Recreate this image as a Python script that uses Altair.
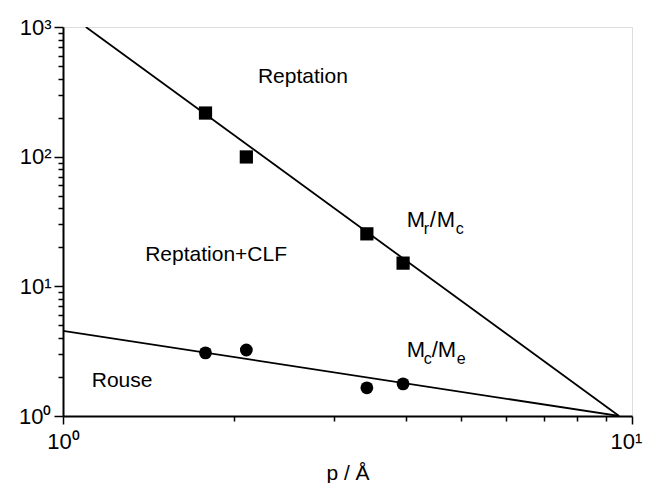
import altair as alt
import pandas as pd

# data
p_vals = [1.78, 2.10, 3.42, 3.96]
mr_mc = [217, 99.5, 25.4, 15.1]
mc_me = [3.07, 3.23, 1.65, 1.77]

line1_x = [1.097, 9.49]
line1_y = [1000, 1]
line2_x = [1.0, 9.49]
line2_y = [4.53, 1]

region_labels = ["Reptation", "Reptation+CLF", "Rouse"]
region_x = [2.64, 1.858, 1.27]
region_y = [370, 15.7, 1.675]

ratio_x = [4.02, 4.02]
ratio_y = [28.7, 2.86]

x_ticks = [1, 2, 3, 4, 5, 6, 7, 8, 9, 10]
y_ticks = [1, 2, 3, 4, 5, 6, 7, 8, 9,
           10, 20, 30, 40, 50, 60, 70, 80, 90,
           100, 200, 300, 400, 500, 600, 700, 800, 900, 1000]

FONT = "Liberation Sans"

pts = pd.DataFrame({"p": p_vals * 2, "v": mr_mc + mc_me,
                    "s": ["sq"] * 4 + ["ci"] * 4})
lines = pd.DataFrame({"p": line1_x + line2_x, "v": line1_y + line2_y,
                      "s": ["a", "a", "b", "b"]})
regions = pd.DataFrame({"p": region_x, "v": region_y, "t": region_labels})

xscale = alt.Scale(type="log", domain=[1, 10], nice=False)
yscale = alt.Scale(type="log", domain=[1, 1000], nice=False)

major_x = "datum.value == 1 || datum.value == 10"
major_y = "abs(log(datum.value)/LN10 - round(log(datum.value)/LN10)) < 0.001"

xaxis = alt.Axis(
    values=x_ticks, title="p / Å", labelOverlap=False, labelFlush=False,
    labelExpr="datum.value == 1 ? '10⁰' : datum.value == 10 ? '10¹' : ''",
    labelOffset={"condition": {"test": "datum.value == 10", "value": -6}, "value": 0},
    tickSize={"condition": {"test": major_x, "value": 8}, "value": 5},
    tickColor="black", tickWidth=1.5, domainColor="black", domainWidth=2,
    labelFont=FONT, labelFontSize=22, labelColor="black", labelPadding=7,
    titleFont=FONT, titleFontSize=21, titleFontWeight="normal",
    titleColor="black", titlePadding=10, grid=False)
yaxis = alt.Axis(
    values=y_ticks, title=None, labelOverlap=False, labelFlush=False,
    labelExpr="datum.value == 1 ? '10⁰' : datum.value == 10 ? '10¹' : "
              "datum.value == 100 ? '10²' : datum.value == 1000 ? '10³' : ''",
    tickSize={"condition": {"test": major_y, "value": 9}, "value": 5},
    tickColor="black", tickWidth=1.5, domainColor="black", domainWidth=2,
    labelFont=FONT, labelFontSize=22, labelColor="black", labelPadding=3,
    grid=False)

base_x = alt.X("p:Q", scale=xscale, axis=xaxis)
base_y = alt.Y("v:Q", scale=yscale, axis=yaxis)

line_layer = alt.Chart(lines).mark_line(color="black", strokeWidth=1.8, clip=True).encode(
    x=base_x, y=base_y, detail="s:N")

sq_layer = alt.Chart(pts).transform_filter("datum.s == 'sq'").mark_point(
    shape="square", filled=True, color="black", opacity=1, size=175).encode(x="p:Q", y="v:Q")
ci_layer = alt.Chart(pts).transform_filter("datum.s == 'ci'").mark_point(
    shape="circle", filled=True, color="black", opacity=1, size=165).encode(x="p:Q", y="v:Q")

region_layer = alt.Chart(regions).mark_text(
    font=FONT, fontSize=21, color="black", align="center", baseline="alphabetic").encode(
    x="p:Q", y="v:Q", text="t:N")


def ratio_label(idx, top1, sub1, top2, sub2, offsets):
    df = pd.DataFrame({"p": [ratio_x[idx]], "v": [ratio_y[idx]]})
    layers = []
    pieces = [(top1, offsets[0], 0, 22), (sub1, offsets[1], 7, 16),
              ("/", offsets[2], 0, 22), (top2, offsets[3], 0, 22),
              (sub2, offsets[4], 7, 16)]
    for txt, dx, dy, fs in pieces:
        layers.append(alt.Chart(df).mark_text(
            text=txt, font=FONT, fontSize=fs, color="black", align="left",
            baseline="alphabetic", dx=dx, dy=dy).encode(x="p:Q", y="v:Q"))
    return layers


lab1 = ratio_label(0, "M", "r", "M", "c", [0, 17, 23, 30, 49])
lab2 = ratio_label(1, "M", "c", "M", "e", [0, 17, 25, 31, 50])

chart = alt.layer(line_layer, sq_layer, ci_layer, region_layer, *lab1, *lab2).properties(
    width=569, height=389,
    autosize=alt.AutoSizeParams(type="none"),
    padding={"left": 55, "top": 19, "right": 11, "bottom": 67},
).configure_view(stroke="black", strokeWidth=2).configure(background="white")

chart.save("out.html", embed_options={"renderer": "svg", "actions": False})
